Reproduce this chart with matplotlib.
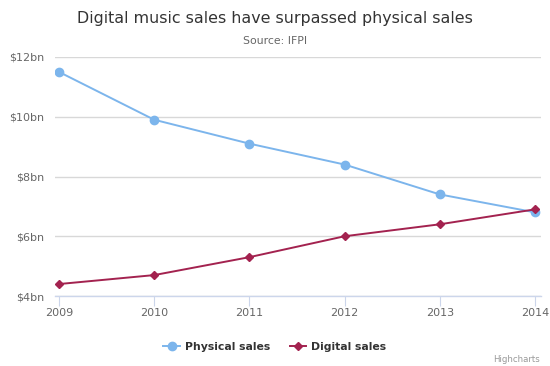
import numpy as np
import matplotlib
matplotlib.use('Agg')
import matplotlib.pyplot as plt
from matplotlib.lines import Line2D

# data
years = [2009, 2010, 2011, 2012, 2013, 2014]
physical = [11.5, 9.9, 9.1, 8.4, 7.4, 6.8]
digital = [4.4, 4.7, 5.3, 6.0, 6.4, 6.9]
ytick_vals = [4, 6, 8, 10, 12]
ytick_labels = ['$4bn', '$6bn', '$8bn', '$10bn', '$12bn']

c_phys = '#7cb5ec'
c_dig = '#a3224f'

fig = plt.figure(figsize=(5.5, 3.66), dpi=100)
ax = fig.add_axes([55/550, 70/366, 486/550, 239/366])

ax.plot(years, physical, color=c_phys, lw=1.4, marker='o', ms=6, label='Physical sales', zorder=3)
ax.plot(years, digital, color=c_dig, lw=1.4, marker='D', ms=4.2, label='Digital sales', zorder=3)

ax.set_xlim(2009 - 0.042, 2014 + 0.063)
ax.set_ylim(4, 12)
ax.set_yticks(ytick_vals)
ax.set_yticklabels(ytick_labels)
ax.set_xticks(years)
ax.set_xticklabels([str(y) for y in years])

ax.grid(axis='y', color='#d8d8d8', lw=1)
ax.set_axisbelow(True)
for s in ['top', 'right', 'left']:
    ax.spines[s].set_visible(False)
ax.spines['bottom'].set_color('#ccd6eb')
ax.spines['bottom'].set_linewidth(1)
ax.tick_params(axis='y', length=0, pad=8, labelsize=8, labelcolor='#666666')
ax.tick_params(axis='x', length=7, color='#ccd6eb', pad=2, labelsize=8, labelcolor='#666666')

fig.text(0.5, 1 - 18/366, 'Digital music sales have surpassed physical sales',
         ha='center', va='center', fontsize=11.4, color='#333333')
fig.text(0.5, 1 - 41/366, 'Source: IFPI', ha='center', va='center', fontsize=7.8, color='#666666')

handles = [Line2D([0], [0], color=c_phys, lw=1.4, marker='o', ms=6),
           Line2D([0], [0], color=c_dig, lw=1.4, marker='D', ms=4.2)]
leg = fig.legend(handles, ['Physical sales', 'Digital sales'], loc='center',
                 bbox_to_anchor=(0.5, 1 - 347/366), ncol=2, frameon=False,
                 handlelength=1.5, columnspacing=1.8, handletextpad=0.5,
                 prop={'size': 7.8, 'weight': 'bold'})
for t in leg.get_texts():
    t.set_color('#333333')

fig.text(540/550, 1 - 360/366, 'Highcharts', ha='right', va='center', fontsize=6.2, color='#999999')

fig.savefig('out.png', dpi=100)
